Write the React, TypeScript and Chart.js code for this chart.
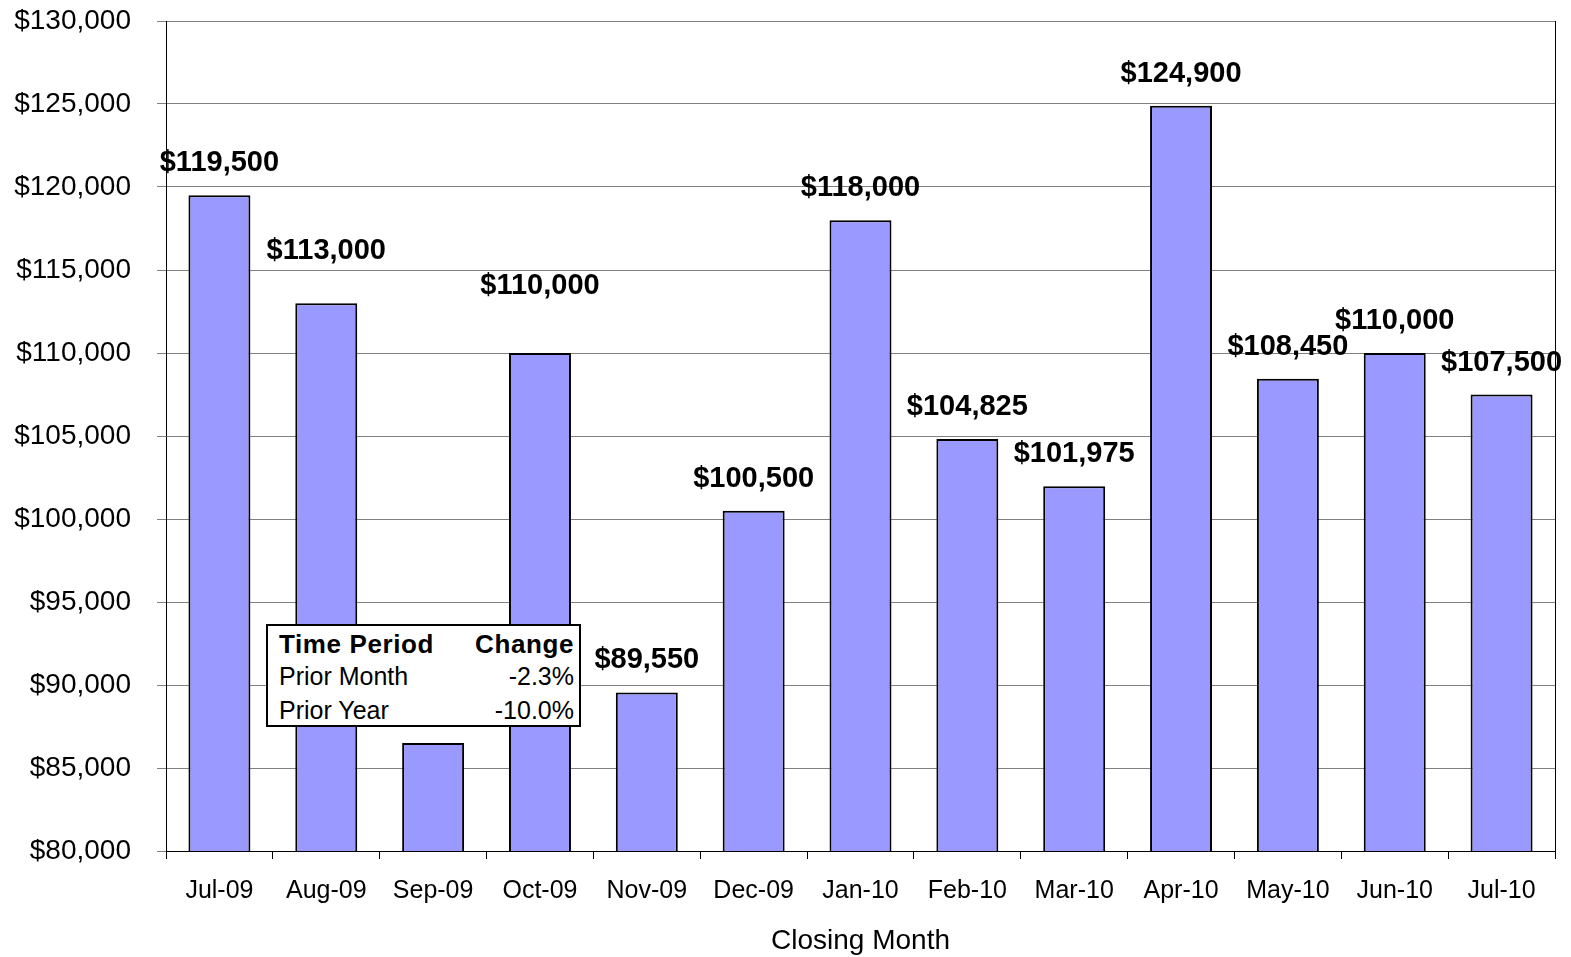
import React, { useEffect, useRef } from "react";
import { Chart, registerables } from "chart.js";

Chart.register(...registerables);

const months = ["Jul-09", "Aug-09", "Sep-09", "Oct-09", "Nov-09", "Dec-09", "Jan-10", "Feb-10", "Mar-10", "Apr-10", "May-10", "Jun-10", "Jul-10"];
const medianPrice = [119500, 113000, 86500, 110000, 89550, 100500, 118000, 104825, 101975, 124900, 108450, 110000, 107500];
const tableHeader = ["Time Period", "Change"];
const tablePeriods = ["Prior Month", "Prior Year"];
const tableChanges = ["-2.3%", "-10.0%"];

const labelLift = [0, 20, 0, 35, 0, 0, 0, 0, 0, 0, 0, 0, 0];

const FONT = "'Liberation Sans', Arial, sans-serif";

const fmt = (v: number) => "$" + v.toLocaleString("en-US");

const valueLabels = {
  id: "valueLabels",
  afterDatasetsDraw(chart: any) {
    const ctx = chart.ctx;
    const meta = chart.getDatasetMeta(0);
    ctx.save();
    ctx.font = `bold 29px ${FONT}`;
    ctx.fillStyle = "#000";
    ctx.textAlign = "center";
    ctx.textBaseline = "middle";
    meta.data.forEach((bar: any, i: number) => {
      ctx.fillText(fmt(medianPrice[i]), bar.x, bar.y - 32 - labelLift[i]);
    });
    ctx.restore();
  },
};

const rightBorder = {
  id: "rightBorder",
  afterDraw(chart: any) {
    const { ctx, chartArea } = chart;
    ctx.save();
    ctx.strokeStyle = "#000";
    ctx.lineWidth = 1;
    ctx.beginPath();
    ctx.moveTo(Math.round(chartArea.right) + 0.5, chartArea.top);
    ctx.lineTo(Math.round(chartArea.right) + 0.5, chartArea.bottom);
    ctx.stroke();
    ctx.restore();
  },
};

export default function App() {
  const ref = useRef<HTMLCanvasElement | null>(null);

  useEffect(() => {
    document.body.style.margin = "0";
    if (!ref.current) return;
    const chart = new Chart(ref.current, {
      type: "bar",
      data: {
        labels: months,
        datasets: [
          {
            data: medianPrice,
            backgroundColor: "#9999FF",
            borderColor: "#000000",
            borderWidth: 2,
            barPercentage: 0.58,
            categoryPercentage: 1,
          },
        ],
      },
      options: {
        animation: false,
        responsive: false,
        maintainAspectRatio: false,
        layout: { padding: { top: 21, right: 16, left: 0, bottom: 0 } },
        plugins: {
          legend: { display: false },
          tooltip: { enabled: false },
        },
        scales: {
          x: {
            grid: {
              offset: true,
              drawOnChartArea: false,
              drawTicks: true,
              tickLength: 8,
              color: "#000",
            },
            border: { display: true, color: "#000", width: 1 },
            ticks: {
              color: "#000",
              font: { family: FONT, size: 25 },
              padding: 17,
              maxRotation: 0,
              autoSkip: false,
            },
            title: {
              display: true,
              text: "Closing Month",
              color: "#000",
              font: { family: FONT, size: 28, lineHeight: 1 },
              padding: { top: 0, bottom: 2 },
            },
            afterFit: (scale: any) => {
              scale.height = 106;
            },
          },
          y: {
            min: 80000,
            max: 130000,
            grid: {
              color: "#808080",
              lineWidth: 1,
              drawTicks: true,
              tickLength: 9,
            },
            border: { display: true, color: "#000", width: 1 },
            ticks: {
              stepSize: 5000,
              color: "#000",
              font: { family: FONT, size: 28 },
              padding: 26,
              callback: (v: any) => fmt(Number(v)),
            },
            afterFit: (scale: any) => {
              scale.width = 166;
              scale.paddingTop = 0;
              scale.paddingBottom = 0;
            },
          },
        },
      },
      plugins: [valueLabels, rightBorder],
    });
    return () => chart.destroy();
  }, []);

  const cell: React.CSSProperties = { position: "absolute", whiteSpace: "nowrap", lineHeight: "1" };

  return (
    <div style={{ position: "relative", width: 1571, height: 957, fontFamily: FONT }}>
      <canvas ref={ref} width={1571} height={957} style={{ display: "block" }} />
      <div
        style={{
          position: "absolute",
          left: 266,
          top: 624,
          width: 315,
          height: 103,
          boxSizing: "border-box",
          border: "2.5px solid #000",
          background: "#fff",
          color: "#000",
        }}
      >
        <span style={{ ...cell, left: 11, top: 5, fontWeight: "bold", fontSize: 26, letterSpacing: 0.6 }}>{tableHeader[0]}</span>
        <span style={{ ...cell, right: 5, top: 5, fontWeight: "bold", fontSize: 26, letterSpacing: 0.6 }}>{tableHeader[1]}</span>
        {tablePeriods.map((p, i) => (
          <React.Fragment key={p}>
            <span style={{ ...cell, left: 11, top: 38 + i * 34, fontSize: 25 }}>{p}</span>
            <span style={{ ...cell, right: 5, top: 38 + i * 34, fontSize: 25 }}>{tableChanges[i]}</span>
          </React.Fragment>
        ))}
      </div>
    </div>
  );
}
